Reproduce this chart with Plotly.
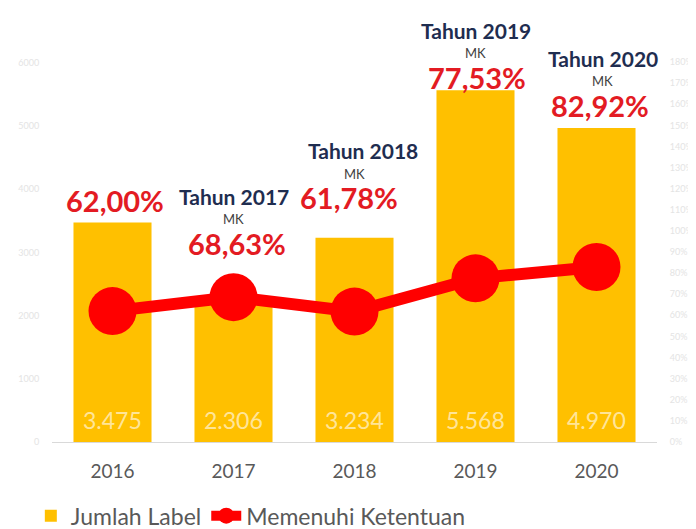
import plotly.graph_objects as go

# ---- data ----
years = ["2016", "2017", "2018", "2019", "2020"]
jumlah_label = [3475, 2306, 3234, 5568, 4970]
memenuhi_pct = [62.00, 68.63, 61.78, 77.53, 82.92]
show_tahun = [False, True, True, True, True]
left_ticks = [0, 1000, 2000, 3000, 4000, 5000, 6000]
right_ticks = list(range(0, 190, 10))

# ---- styling / layout helpers (not data) ----
pct_shift = [22, 53, 40, 13, 23]     # px above bar top (label centre)
pct_xshift = [2, 3, -6, 1, 3]
tahun_xshift = [0, 0, 8, 0, 6]
mk_xshift = [0, 0, 0, 0, 6]

FONT = "Lato"
BAR_COLOR = "#FFC000"
RED = "#FF0000"
PCT_RED = "#E31B23"
NAVY = "#1F2D50"

fig = go.Figure()
fig.add_trace(go.Bar(
    x=years, y=jumlah_label, name="Jumlah Label",
    marker=dict(color=BAR_COLOR, line=dict(width=0)),
    yaxis="y",
))
fig.add_trace(go.Scatter(
    x=years, y=memenuhi_pct, name="Memenuhi Ketentuan",
    mode="lines+markers",
    line=dict(color=RED, width=12),
    marker=dict(color=RED, size=48),
    yaxis="y2",
))

annotations = []
for i, yr in enumerate(years):
    v = jumlah_label[i]
    # value inside bar (bottom); x given as category index
    annotations.append(dict(
        x=i, y=0, xref="x", yref="y", yanchor="bottom", yshift=6,
        text=f"{v:,}".replace(",", "."), showarrow=False,
        font=dict(family=FONT, size=23, color="rgba(255,255,255,0.62)"),
    ))
    pct_txt = f"{memenuhi_pct[i]:.2f}".replace(".", ",") + "%"
    annotations.append(dict(
        x=i, y=v, xref="x", yref="y", yanchor="middle",
        yshift=pct_shift[i], xshift=pct_xshift[i],
        text=f"<b>{pct_txt}</b>", showarrow=False,
        font=dict(family=FONT, size=29, color=PCT_RED),
    ))
    if show_tahun[i]:
        annotations.append(dict(
            x=i, y=v, xref="x", yref="y", yanchor="middle",
            yshift=pct_shift[i] + 24, xshift=mk_xshift[i],
            text="MK", showarrow=False,
            font=dict(family=FONT, size=13, color="#404040"),
        ))
        annotations.append(dict(
            x=i, y=v, xref="x", yref="y", yanchor="middle",
            yshift=pct_shift[i] + 47, xshift=tahun_xshift[i],
            text=f"<b>Tahun {yr}</b>", showarrow=False,
            font=dict(family=FONT, size=21, color=NAVY),
        ))

# page body has an 8px margin, so the figure is 8px smaller and margins shifted
fig.update_layout(
    width=688, height=521,
    margin=dict(l=44, r=39, t=42, b=87, autoexpand=False),
    plot_bgcolor="white", paper_bgcolor="white",
    bargap=0.355,
    font=dict(family=FONT),
    showlegend=True,
    legend=dict(
        orientation="h", x=-0.035, xanchor="left", y=-0.188, yanchor="middle",
        font=dict(family=FONT, size=23, color="#595959"),
        itemwidth=30, tracegroupgap=0,
    ),
    xaxis=dict(
        type="category", range=[-0.5, 4.5],
        showgrid=False, showline=True, linecolor="#D9D9D9", linewidth=1,
        ticks="outside", ticklen=12, tickcolor="rgba(0,0,0,0)",
        tickfont=dict(family=FONT, size=19, color="#595959"),
    ),
    yaxis=dict(
        range=[0, 6206], showgrid=False, zeroline=False, showline=False,
        ticks="outside", ticklen=10, tickcolor="rgba(0,0,0,0)",
        tickvals=left_ticks, ticktext=[str(t) for t in left_ticks],
        tickfont=dict(family=FONT, size=9, color="#E4E4E4"),
    ),
    yaxis2=dict(
        range=[0, 185.7], overlaying="y", side="right",
        showgrid=False, zeroline=False, showline=False,
        ticks="outside", ticklen=10, tickcolor="rgba(0,0,0,0)",
        tickvals=right_ticks, ticktext=[f"{t}%" for t in right_ticks],
        tickfont=dict(family=FONT, size=9, color="#E4E4E4"),
    ),
    annotations=annotations,
)

fig.write_html("out.html")
